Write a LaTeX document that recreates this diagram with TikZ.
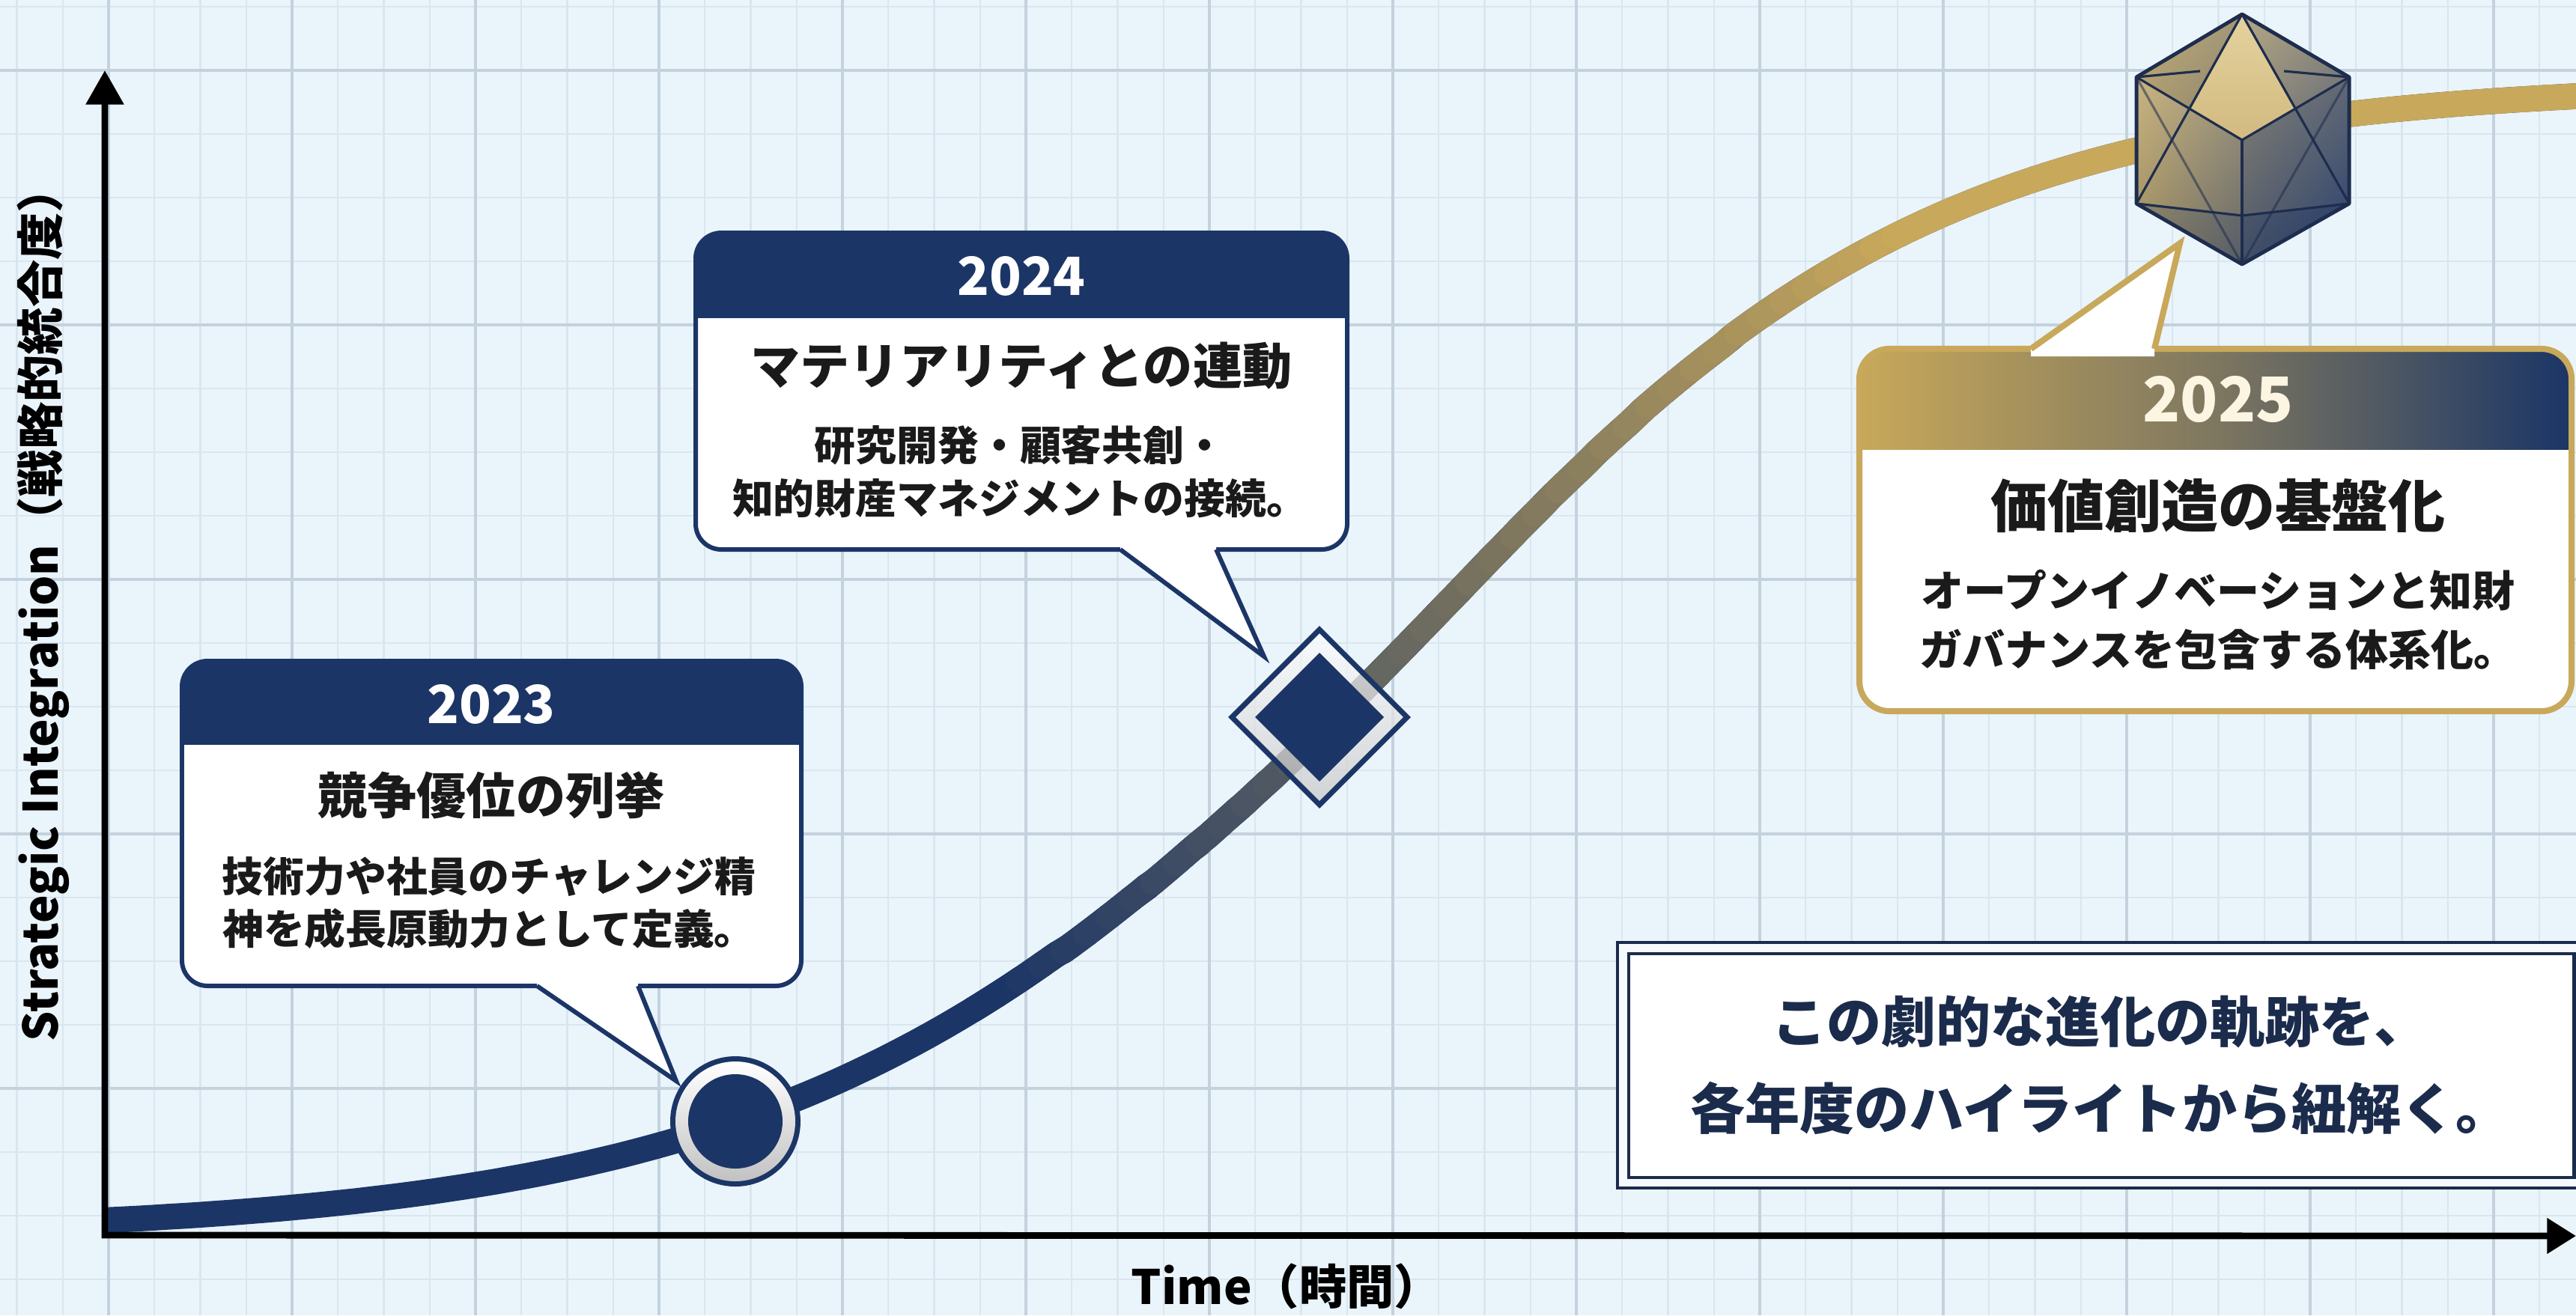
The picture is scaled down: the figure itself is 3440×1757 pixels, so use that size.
\documentclass[tikz,border=0pt]{standalone}
\usepackage{fontspec}
\setmainfont{Noto Sans CJK JP}
\usetikzlibrary{arrows.meta,shadings}

\definecolor{bgc}{HTML}{EAF4FB}
\definecolor{gridminor}{HTML}{DAE6EF}
\definecolor{gridmajor}{HTML}{C3D2DD}
\definecolor{navy}{HTML}{1B3566}
\definecolor{gold}{HTML}{C8A85A}
\definecolor{ink}{HTML}{1A1A1A}
\definecolor{cream}{HTML}{FCF5E2}
\definecolor{summaryink}{HTML}{1B2B4B}
\definecolor{edge}{HTML}{1E2D4D}
\definecolor{icoA}{HTML}{D9C48C}
\definecolor{icoB}{HTML}{8F8B7E}
\definecolor{icoC}{HTML}{9C8A5E}
\definecolor{icoD}{HTML}{2A4070}
\definecolor{icoTopA}{HTML}{E4D29E}
\definecolor{icoTopB}{HTML}{D2BA80}
\definecolor{bandmid}{HTML}{7E7760}

% S-shaped growth curve, y as a function of x (picture units)
\pgfmathdeclarefunction{scurve}{1}{%
  \pgfmathparse{110+1540/(1+exp((0.00265+0.00015*tanh(max(-3,min(3,(#1-1861)/300))))*(#1-1861)))}%
}

\begin{document}
\begin{tikzpicture}[x=0.01cm, y=-0.01cm,
  axisline/.style={line width=2.5pt, black, line join=miter,
    {Triangle[length=13pt,width=14pt]}-{Triangle[length=11pt,width=13pt]}},
  boxborder/.style={draw=navy, line width=1.7pt},
  goldborder/.style={draw=gold, line width=2.3pt},
  yeartxt/.style={font=\bfseries\fontsize{20pt}{24pt}\selectfont, text=white, inner sep=0},
  titletxt/.style={font=\bfseries\fontsize{18.8pt}{22pt}\selectfont, text=ink, inner sep=0},
  bodytxt/.style={font=\bfseries\fontsize{15.6pt}{19.7pt}\selectfont, text=ink, inner sep=0, align=center},
  axistxt/.style={font=\bfseries\fontsize{18pt}{22pt}\selectfont, text=black, inner sep=0},
  edgeline/.style={draw=edge, line width=0.9pt, line join=round},
  curveline/.style={line width=9.8pt},
]
\useasboundingbox (0,0) rectangle (3440,1757);
\clip (0,0) rectangle (3440,1757);
\fill[bgc] (0,0) rectangle (3440,1757);

% graph paper
\foreach \i in {0,...,56} {
  \pgfmathsetmacro\gx{22.5+61.25*\i}
  \draw[gridminor, line width=0.6pt] (\gx,0) -- (\gx,1757);
}
\foreach \j in {0,...,20} {
  \pgfmathsetmacro\gy{9+85*\j}
  \draw[gridminor, line width=0.6pt] (0,\gy) -- (3440,\gy);
}
\foreach \i in {0,...,13} {
  \pgfmathsetmacro\gx{145+245*\i}
  \draw[gridmajor, line width=0.9pt] (\gx,0) -- (\gx,1757);
}
\foreach \j in {0,...,4} {
  \pgfmathsetmacro\gy{94+340*\j}
  \draw[gridmajor, line width=0.9pt] (0,\gy) -- (3440,\gy);
}

% growth curve: navy base, then a navy-to-gold run of short pieces
\draw[navy, curveline] plot[domain=143:3440, samples=160] (\x,{scurve(\x)});
\foreach \i in {0,...,71} {
  \pgfmathsetmacro\xa{1300+30*\i}
  \pgfmathsetmacro\xb{\xa+32}
  \pgfmathtruncatemacro\p{max(0,min(100,(2550-(\xa+16))/12))}
  \draw[navy!\p!gold, curveline, line cap=round]
    plot[domain=\xa:\xb, samples=4, variable=\t] (\t,{scurve(\t)});
}

% axes
\coordinate (O) at (140,1650);
\coordinate (Ytop) at (140,94);
\coordinate (Xend) at (3440,1651);
\draw[axisline] (Ytop) -- (O) -- (Xend);
\node[axistxt] (xlabel) at (1718,1718) {Time（時間）};
\node[axistxt, rotate=90] (ylabel) at (58,806) {Strategic Integration（戦略的統合度）};

% 2023 marker
\coordinate (m23) at (982,1498);
\fill[navy] (m23) circle[radius=87];
\shade[top color=white, bottom color=black!24] (m23) circle[radius=80];
\fill[navy] (m23) circle[radius=63];

% 2024 marker
\coordinate (m24) at (1762,958);
\begin{scope}[shift={(m24)}]
  \shade[top color=white, bottom color=black!22, fill opacity=0.72]
    (0,-117) -- (117,0) -- (0,117) -- (-117,0) -- cycle;
  \draw[navy, line width=2pt] (0,-117) -- (117,0) -- (0,117) -- (-117,0) -- cycle;
  \fill[navy] (0,-86) -- (86,0) -- (0,86) -- (-86,0) -- cycle;
\end{scope}

% 2025 marker: faceted solid
\coordinate (m25) at (2994,187);
\coordinate (iT) at (2994,19);
\coordinate (iUL) at (2853,103);
\coordinate (iUR) at (3137,103);
\coordinate (iLL) at (2853,272);
\coordinate (iLR) at (3137,272);
\coordinate (iB) at (2994,353);
\coordinate (iC) at (2994,187);
\coordinate (iL) at (2924,145);
\coordinate (iR) at (3064,145);
\shade[upper left=icoA, upper right=icoB, lower left=icoC, lower right=icoD]
  (iT) -- (iUR) -- (iLR) -- (iB) -- (iLL) -- (iUL) -- cycle;
\fill[navy, opacity=0.22] (iC) -- (iR) -- (iUR) -- (iLR) -- (iB) -- cycle;
\fill[black!40!icoC, opacity=0.18] (iT) -- (iUL) -- (iL) -- cycle;
\fill[navy, opacity=0.18] (iLL) -- (2994,288) -- (iB) -- cycle;
\fill[navy, opacity=0.3] (iLR) -- (2994,288) -- (iB) -- cycle;
\shade[top color=icoTopA, bottom color=icoTopB]
  (iT) -- (iR) -- (iC) -- (iL) -- cycle;
\draw[edgeline] (iT) -- (iLL);
\draw[edgeline] (iT) -- (iLR);
\draw[edgeline, draw opacity=0.55] (iB) -- (iUL);
\draw[edgeline, draw opacity=0.55] (iB) -- (iUR);
\draw[edgeline] (iUL) -- (iC) -- (iUR);
\draw[edgeline] (iC) -- (iB);
\draw[edgeline] (iUL) -- (2938,95);
\draw[edgeline] (iUR) -- (3050,95);
\draw[edgeline] (iLL) -- (2994,288) -- (iLR);
\draw[draw=edge, line width=1.4pt, line join=round]
  (iT) -- (iUR) -- (iLR) -- (iB) -- (iLL) -- (iUL) -- cycle;

% 2023 callout
\fill[white, rounded corners=9.7pt] (243,883) rectangle (1070,1317);
\begin{scope}
  \clip[rounded corners=9.7pt] (243,883) rectangle (1070,1317);
  \fill[navy] (243,883) rectangle (1070,995);
\end{scope}
\draw[boxborder, rounded corners=9.7pt] (243,883) rectangle (1070,1317);
\coordinate (t23) at (903,1444);
\fill[white] (717,1308) -- (717,1317) -- (t23) -- (852,1317) -- (852,1308) -- cycle;
\draw[boxborder, line join=miter] (717,1317) -- (t23) -- (852,1317);
\node[yeartxt] (y23) at (656,941) {2023};
\node[titletxt] (h23) at (656,1062) {競争優位の列挙};
\node[bodytxt] (b23) at (653,1206) {技術力や社員のチャレンジ精\\神を成長原動力として定義。};

% 2024 callout
\fill[white, rounded corners=9.7pt] (929,311) rectangle (1799,734);
\begin{scope}
  \clip[rounded corners=9.7pt] (929,311) rectangle (1799,734);
  \fill[navy] (929,311) rectangle (1799,425);
\end{scope}
\draw[boxborder, rounded corners=9.7pt] (929,311) rectangle (1799,734);
\coordinate (t24) at (1688,877);
\fill[white] (1496,725) -- (1496,734) -- (t24) -- (1624,734) -- (1624,725) -- cycle;
\draw[boxborder, line join=miter] (1496,734) -- (t24) -- (1624,734);
\node[yeartxt] (y24) at (1364,369) {2024};
\node[titletxt] (h24) at (1364,489) {マテリアリティとの連動};
\node[bodytxt, font=\bfseries\fontsize{15.6pt}{20.2pt}\selectfont] (b24) at (1362,630)
  {研究開発・顧客共創・\\知的財産マネジメントの接続。};

% 2025 callout
\fill[white, rounded corners=11.4pt] (2483,466) rectangle (3434,950);
\begin{scope}
  \clip[rounded corners=11.4pt] (2483,466) rectangle (3434,950);
  \shade[left color=gold, right color=navy, middle color=bandmid] (2483,466) rectangle (3434,600);
\end{scope}
\draw[goldborder, rounded corners=11.4pt] (2483,466) rectangle (3434,950);
\coordinate (t25) at (2911,325);
\fill[white] (2712,476) -- (2712,466) -- (t25) -- (2877,466) -- (2877,476) -- cycle;
\draw[goldborder, line join=miter] (2712,466) -- (t25) -- (2877,466);
\node[yeartxt, text=cream, font=\bfseries\fontsize{23.5pt}{28pt}\selectfont] (y25) at (2962,533) {2025};
\node[titletxt, font=\bfseries\fontsize{21.6pt}{26pt}\selectfont] (h25) at (2962,676) {価値創造の基盤化};
\node[bodytxt, font=\bfseries\fontsize{16.2pt}{22.5pt}\selectfont] (b25) at (2962,828)
  {オープンイノベーションと知財\\ガバナンスを包含する体系化。};

% closing statement
\draw[summaryink, line width=1.4pt, fill=white!55!bgc] (2160,1259) rectangle (3470,1587);
\draw[summaryink, line width=1.4pt, fill=white] (2175,1274) rectangle (3437,1573);
\node[inner sep=0, align=center, text=summaryink,
  font=\bfseries\fontsize{20.8pt}{33pt}\selectfont] (summary) at (2805,1423)
  {この劇的な進化の軌跡を、\\各年度のハイライトから紐解く。};
\end{tikzpicture}
\end{document}
